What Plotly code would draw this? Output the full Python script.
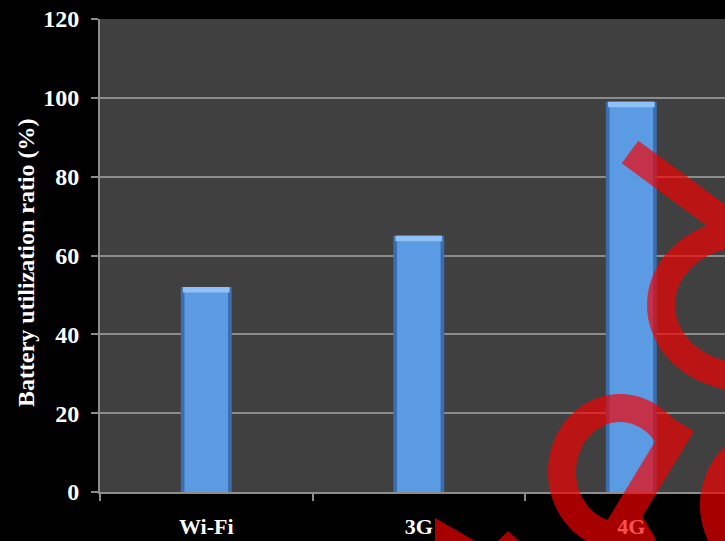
import math
import plotly.graph_objects as go

# Chart data
categories = ["Wi-Fi", "3G", "4G"]
battery_ratio = [52, 65, 99]
y_ticks = [0, 20, 40, 60, 80, 100, 120]
y_title = "Battery utilization ratio (%)"

# Figure geometry (px)
W, H = 725, 541
ML, MR, MT, MB = 100, 0, 19, 49
PW, PH = W - ML - MR, H - MT - MB

FONT = "Liberation Serif, Times New Roman, serif"
GRID = "#8C8C8C"


def to_paper(px, py):
    return (px - ML) / PW, (H - MB - py) / PH


def path_from(points_list):
    """Build an SVG path (paper coords) from several polylines given in px."""
    parts = []
    for pts in points_list:
        segs = []
        for i, (px, py) in enumerate(pts):
            x, y = to_paper(px, py)
            segs.append(("M" if i == 0 else "L") + f"{x:.5f},{y:.5f}")
        parts.append(" ".join(segs))
    return " ".join(parts)


def arc(cx, cy, rx, ry, a0, a1, n=80):
    pts = []
    for k in range(n + 1):
        a = math.radians(a0 + (a1 - a0) * k / n)
        pts.append((cx + rx * math.cos(a), cy - ry * math.sin(a)))
    return pts


fig = go.Figure()

# bevelled bars: dark rim, face, light top edge
fig.add_bar(x=categories, y=battery_ratio, width=0.24,
            marker=dict(color="#3C6DAC", line_width=0), hoverinfo="skip")
fig.add_bar(x=categories, y=battery_ratio, width=0.205,
            marker=dict(color="#5B9BE4", line_width=0), hoverinfo="skip")
bevel = 1.4
fig.add_bar(x=categories, y=[bevel] * len(battery_ratio),
            base=[v - bevel for v in battery_ratio], width=0.22,
            marker=dict(color="#8DC1F7", line_width=0), hoverinfo="skip")

# red overlay strokes
RED = "rgba(245,0,0,0.68)"
stroke_top = path_from([
    [(630, 152), (770, 255)],
    arc(745, 305, 84, 72, 0, 360, 120),
])
stroke_low = path_from([
    [(596, 566), (682, 424)],
    arc(620, 472, 58, 64, 38, 300, 100),
])
stroke_right = path_from([
    arc(778, 505, 64, 66, 100, 240, 60),
])
shapes = []
for p in (stroke_top, stroke_low, stroke_right):
    shapes.append(dict(type="path", path=p, xref="paper", yref="paper",
                       line=dict(color=RED, width=28), layer="above"))
for tri in ([(435, 518), (482, 545), (435, 545)],
            [(508, 531), (494, 545), (524, 545)]):
    p = path_from([tri]) + " Z"
    shapes.append(dict(type="path", path=p, xref="paper", yref="paper",
                       fillcolor=RED, line=dict(width=0), layer="above"))

# rotated y-axis title
tx, ty = to_paper(26, 263)
annotations = [dict(text=y_title, textangle=-90, xref="paper", yref="paper",
                    x=tx, y=ty, xanchor="center", yanchor="middle",
                    showarrow=False,
                    font=dict(family=FONT, size=24, color="white", weight="bold"))]

fig.update_layout(
    width=W, height=H,
    margin=dict(l=ML, r=MR, t=MT, b=MB, pad=0),
    paper_bgcolor="#000000",
    plot_bgcolor="#404040",
    barmode="overlay",
    showlegend=False,
    shapes=shapes,
    annotations=annotations,
    font=dict(family=FONT, color="white", size=24, weight="bold"),
    xaxis=dict(
        type="category", range=[-0.5, 2.441], automargin=False,
        showgrid=False, zeroline=False,
        showline=True, linecolor=GRID, linewidth=2,
        ticks="outside", tickson="boundaries", ticklen=7,
        tickcolor=GRID, tickwidth=1.5,
        ticklabelstandoff=14,
        tickfont=dict(family=FONT, size=22, color="white", weight="bold"),
    ),
    yaxis=dict(
        range=[0, 120], tickvals=y_ticks, automargin=False,
        showgrid=True, gridcolor=GRID, gridwidth=1.5,
        zeroline=False,
        showline=True, linecolor=GRID, linewidth=2,
        ticks="outside", ticklen=7, tickcolor=GRID, tickwidth=1.5,
        ticklabelstandoff=7,
        tickfont=dict(family=FONT, size=24, color="white", weight="bold"),
    ),
)

fig.write_html("out.html")
